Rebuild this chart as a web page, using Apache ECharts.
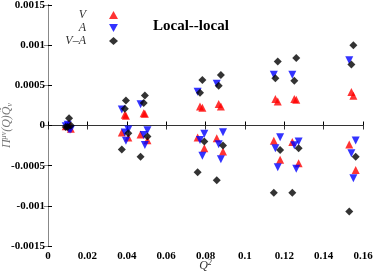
<!DOCTYPE html>
<html><head><meta charset="utf-8">
<script src="https://cdn.jsdelivr.net/npm/echarts@6/dist/echarts.min.js"></script>
<style>html,body{margin:0;padding:0;background:#fff}#c{width:374px;height:271px}</style>
</head><body><div id="c"></div>
<script>
// Q^2 values (one per measured point)
const q2 = [0.0090, 0.0100, 0.0107, 0.0116,
            0.0375, 0.0390, 0.0396, 0.0408,
            0.0470, 0.0486, 0.0492, 0.0505,
            0.0760, 0.0772, 0.0784, 0.0794,
            0.0857, 0.0867, 0.0878, 0.0889,
            0.1147, 0.1155, 0.1167, 0.1179,
            0.1241, 0.1251, 0.1261, 0.1273,
            0.1530, 0.1541, 0.1551, 0.1563];
const vVals = [-0.00001, 0.00001, 0.000025, -0.00004,
               -0.0000875, 0.000135, 0.00012, -0.00015,
               -0.000113, 0.000154, 0.000146, -0.000183,
               -0.00015, 0.000237, 0.00022, -0.000283,
               -0.000158, 0.000267, 0.000237, -0.000325,
               -0.00019, 0.00033, 0.0003, -0.000425,
               -0.000204, 0.00033, 0.00032, -0.00047,
               -0.000238, 0.000417, 0.00037, -0.000554];
const aVals = [-0.00001, 0.00001, -0.00005, -0.00005,
               0.0002, -0.0000875, -0.00019, -0.00005,
               0.000263, -0.000117, -0.000242, -0.0000583,
               0.00042, -0.00018, -0.000375, -0.000104,
               0.00052, -0.000233, -0.00042, -0.0000833,
               0.000633, -0.000283, -0.00052, -0.000146,
               0.000633, -0.000246, -0.000538, -0.0002,
               0.000813, -0.000346, -0.000658, -0.000188];
const vaVals = [-0.00002, -0.00002, 0.00009, 0.0,
                -0.0003, 0.00021, 0.00031, -0.000096,
                -0.000388, 0.00028, 0.000375, -0.000138,
                -0.000583, 0.000408, 0.000567, -0.0002,
                -0.000683, 0.000496, 0.00063, -0.00025,
                -0.000838, 0.000588, 0.000796, -0.000304,
                -0.000838, 0.000558, 0.00084, -0.000283,
                -0.00107, 0.000758, 0.001, -0.000388];
const xTicks = [0, 0.02, 0.04, 0.06, 0.08, 0.1, 0.12, 0.14, 0.16];
const yTicks = [-0.0015, -0.001, -0.0005, 0, 0.0005, 0.001, 0.0015];
const seriesNames = ['V', 'A', 'V\u2013A'];

const pair = (ys) => q2.map((x, i) => [x, ys[i]]);
const serif = '"Liberation Serif", "DejaVu Serif", serif';
const ch = echarts.init(document.getElementById('c'), null, {renderer: 'canvas'});
const labStyle = {fontFamily: serif, fontWeight: 'bold', fontSize: 11, color: '#000'};
ch.setOption({
  animation: false,
  backgroundColor: '#fff',
  grid: {left: 48, right: 11, top: 5, bottom: 25, containLabel: false, outerBoundsMode: 'none'},
  xAxis: [{
    type: 'value', min: xTicks[0], max: xTicks[xTicks.length - 1], interval: 0.02,
    axisLine: {lineStyle: {color: '#000', width: 1}},
    axisTick: {inside: true, length: 4, lineStyle: {color: '#000'}},
    splitLine: {show: false},
    axisLabel: Object.assign({margin: 5}, labStyle),
    name: '{q|Q}{s|2}', nameLocation: 'middle', nameGap: 13, nameMoveOverlap: false,
    nameTextStyle: {verticalAlign: 'top', rich: {
      q: {fontFamily: serif, fontStyle: 'italic', fontSize: 12, color: '#333'},
      s: {fontFamily: serif, fontStyle: 'italic', fontSize: 8, color: '#333', padding: [0, 0, 6, 0]}
    }}
  }, {
    type: 'value', position: 'top', min: xTicks[0], max: xTicks[xTicks.length - 1], interval: 0.02,
    axisLine: {lineStyle: {color: '#333'}},
    axisTick: {inside: true, length: 4, lineStyle: {color: '#333'}},
    axisLabel: {show: false}, splitLine: {show: false}
  }],
  yAxis: [{
    type: 'value', min: yTicks[0], max: yTicks[yTicks.length - 1], interval: 0.0005,
    axisLine: {lineStyle: {color: '#000', width: 1}},
    axisTick: {inside: true, length: 4, lineStyle: {color: '#000'}},
    splitLine: {show: false},
    axisLabel: Object.assign({margin: 3}, labStyle),
    name: '{p|\u03A0}{sup|\u03BC\u03BD}{p|(Q)Q\u0303}{sub|\u03BD}', nameLocation: 'middle', nameGap: 34, nameRotate: 90,
    nameMoveOverlap: false,
    nameTextStyle: {rich: {
      p: {fontFamily: serif, fontStyle: 'italic', fontSize: 12, color: '#777'},
      sup: {fontFamily: serif, fontStyle: 'italic', fontSize: 8, color: '#777', padding: [0, 0, 6, 0]},
      sub: {fontFamily: serif, fontStyle: 'italic', fontSize: 8, color: '#777', padding: [6, 0, 0, 0]}
    }}
  }, {
    type: 'value', position: 'right', min: yTicks[0], max: yTicks[yTicks.length - 1], interval: 0.0005,
    axisLine: {show: true, lineStyle: {color: '#888'}},
    axisTick: {show: true, inside: true, length: 4, lineStyle: {color: '#888'}},
    axisLabel: {show: false}, splitLine: {show: false}
  }],
  legend: {
    orient: 'vertical', right: 256, top: 9, padding: 0, itemGap: 1,
    itemWidth: 9, itemHeight: 8, align: 'right',
    data: [{name: seriesNames[0]},
           {name: seriesNames[1], icon: 'path://M0,0 L10,0 L5,9 Z'},
           {name: seriesNames[2]}],
    textStyle: {fontFamily: serif, fontStyle: 'italic', fontSize: 12, lineHeight: 12, color: '#333', padding: [0, 18, 0, 0]}
  },
  graphic: [{
    type: 'text', left: 153, top: 19,
    style: {text: 'Local--local', font: 'bold 15px "Liberation Serif", serif', fill: '#000'}
  }],
  series: [
    {name: seriesNames[0], type: 'scatter', data: pair(vVals), symbol: 'triangle', symbolSize: 8,
     itemStyle: {color: '#ff0000'}},
    {name: seriesNames[1], type: 'scatter', data: pair(aVals), symbol: 'triangle', symbolRotate: 180, symbolSize: 8,
     itemStyle: {color: '#0000ff'}},
    {name: seriesNames[2], type: 'scatter', data: pair(vaVals), symbol: 'diamond', symbolSize: 8,
     itemStyle: {color: '#000000'}}
  ]
});
</script></body></html>
